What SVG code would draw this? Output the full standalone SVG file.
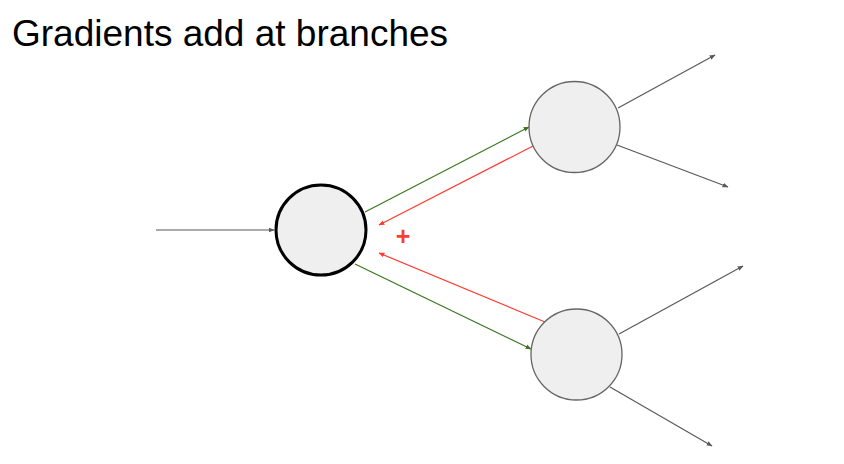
<svg xmlns="http://www.w3.org/2000/svg" width="844" height="464" viewBox="0 0 844 464">
<style>
.t{font-family:"Liberation Sans",Arial,sans-serif;}
.g{stroke:#595959;stroke-width:1.2;fill:none;}
.gr{stroke:#38761d;stroke-width:1.2;fill:none;}
.rd{stroke:#ff3b30;stroke-width:1.2;fill:none;}
.node{fill:#efefef;stroke:#666;stroke-width:1.3;}
</style>
<defs>
<marker id="ag" viewBox="0 0 10 10" refX="9" refY="5" markerWidth="6" markerHeight="6" orient="auto" markerUnits="userSpaceOnUse"><path d="M0,1 L10,5 L0,9z" fill="#595959"/></marker>
<marker id="agr" viewBox="0 0 10 10" refX="9" refY="5" markerWidth="6" markerHeight="6" orient="auto" markerUnits="userSpaceOnUse"><path d="M0,1 L10,5 L0,9z" fill="#38761d"/></marker>
<marker id="ard" viewBox="0 0 10 10" refX="9" refY="5" markerWidth="6" markerHeight="6" orient="auto" markerUnits="userSpaceOnUse"><path d="M0,1 L10,5 L0,9z" fill="#ff3b30"/></marker>
</defs>
<rect width="844" height="464" fill="#fff"/>
<text class="t" x="12" y="46" font-size="37" fill="#000">Gradients add at branches</text>
<g id="connectors">
<line class="g" x1="156" y1="230" x2="274" y2="230" marker-end="url(#ag)"/>
<line class="gr" x1="365" y1="212" x2="529" y2="127" marker-end="url(#agr)"/>
<line class="rd" x1="533" y1="146" x2="379" y2="225" marker-end="url(#ard)"/>
<line class="rd" x1="545" y1="322" x2="379" y2="253" marker-end="url(#ard)"/>
<line class="gr" x1="355" y1="264" x2="531" y2="349" marker-end="url(#agr)"/>
<line class="g" x1="618" y1="108" x2="715" y2="55" marker-end="url(#ag)"/>
<line class="g" x1="617" y1="145" x2="728" y2="187" marker-end="url(#ag)"/>
<line class="g" x1="619" y1="334" x2="743" y2="266" marker-end="url(#ag)"/>
<line class="g" x1="610" y1="387" x2="712" y2="446" marker-end="url(#ag)"/>
</g>
<g id="node-main"><circle cx="321" cy="230" r="45" fill="#efefef" stroke="#000" stroke-width="3"/></g>
<g id="node-top"><circle class="node" cx="574.5" cy="127" r="45.5"/></g>
<g id="node-bottom"><circle class="node" cx="576.5" cy="354.5" r="45.5"/></g>
<text class="t" x="403" y="245" font-size="25" font-weight="bold" fill="#f4402c" text-anchor="middle">+</text>
</svg>
